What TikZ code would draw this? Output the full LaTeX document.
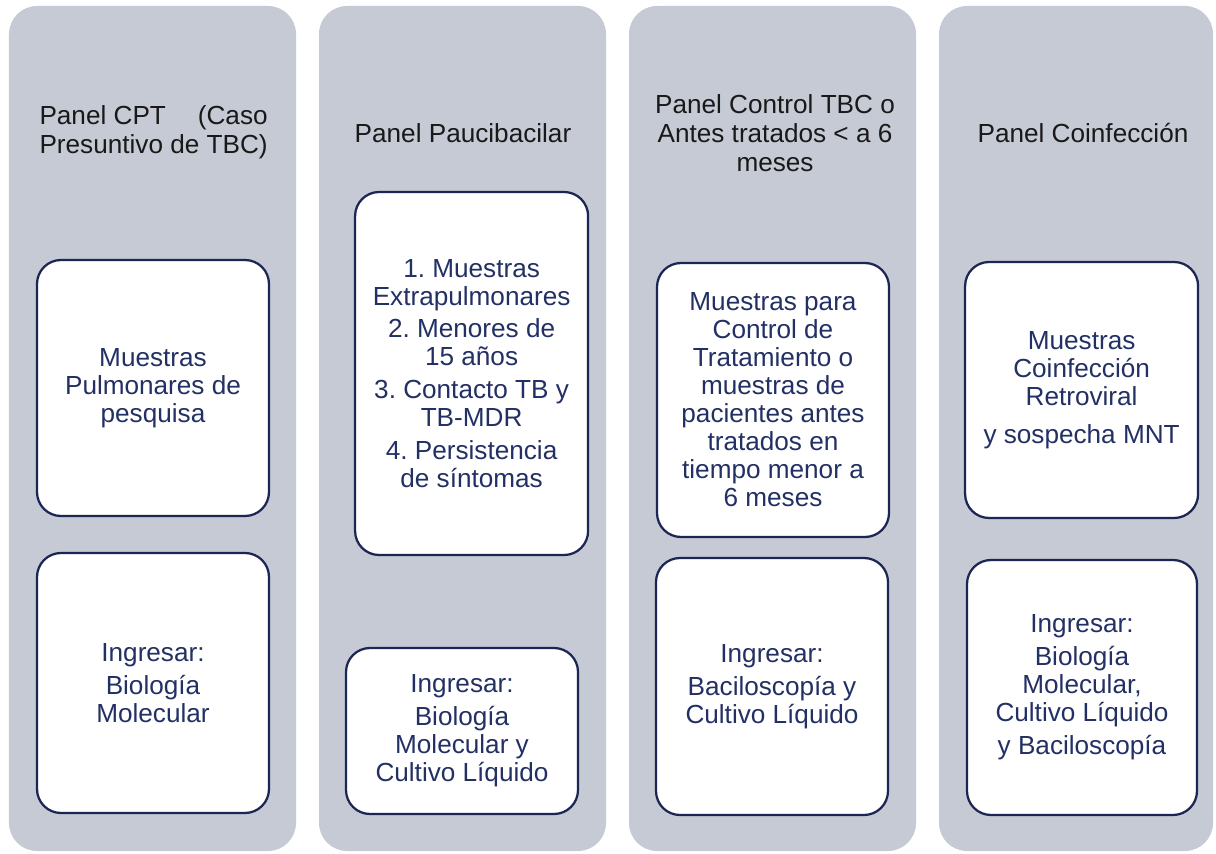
\documentclass[tikz,border=0pt]{standalone}
\usepackage{fontspec}
\setmainfont{Liberation Sans}
\usetikzlibrary{positioning}
\definecolor{panelgray}{RGB}{197,202,213}
\definecolor{boxblue}{RGB}{28,38,84}
\definecolor{textblue}{RGB}{35,48,100}

\begin{document}
\begin{tikzpicture}
\useasboundingbox (0,0) rectangle (30.4,21.325);
%styles
\tikzstyle{panel}=[rectangle,rounded corners=0.7cm,fill=panelgray,minimum width=7.175cm,minimum height=21.125cm,inner sep=0pt]
\tikzstyle{box}=[rectangle,rounded corners=0.6cm,draw=boxblue,line width=1.6pt,fill=white,minimum width=5.8cm,text=textblue,align=center,font=\fontsize{18.6}{19.9}\selectfont,inner sep=0pt]
\tikzstyle{title}=[align=center,text=black!90,font=\fontsize{18.6}{20.6}\selectfont]

%%%%%%%%%%%%%%%%%%%%%%%%%%%%%%%%%%%%%%%%%%%%%%%%%%%%%%%%%%%%%%%%%%%%%%%%
%panels
\node[panel] (panel1) at (3.8125,10.6125) {};
\node[panel] (panel2) at (11.5625,10.6125) {};
\node[panel] (panel3) at (19.3125,10.6125) {};
\node[panel,minimum width=6.85cm] (panel4) at (26.9,10.6125) {};

%titles
\node[title] (tit1) at (3.84,18.0) {\begin{tabular}{@{}l@{}}Panel CPT\hfill(Caso\\Presuntivo de TBC)\end{tabular}};
\node[title] (tit2) at (11.575,18.0) {Panel Paucibacilar};
\node[title] (tit3) at (19.375,18.0) {Panel Control TBC o\\Antes tratados < a 6\\meses};
\node[title] (tit4) at (27.075,18.0) {Panel Coinfección};

%1
\node[box,minimum height=6.4cm] (box1) at (3.825,11.625) {Muestras\\Pulmonares de\\pesquisa};
\node[box,minimum height=6.5cm] (box11) at (3.825,4.25) {Ingresar:\\[3.5pt]Biología\\Molecular};
%2
\node[box,minimum width=5.825cm,minimum height=9.075cm] (box2) at (11.79,11.9875)
 {1.\ Muestras\\Extrapulmonares\\[3.5pt]2.\ Menores de\\15 años\\[3.5pt]3.\ Contacto TB y\\TB-MDR\\[3.5pt]4.\ Persistencia\\de síntomas};
\node[box,minimum height=4.15cm] (box22) at (11.55,3.05) {Ingresar:\\[3.5pt]Biología\\Molecular y\\Cultivo Líquido};
%3
\node[box,minimum height=6.85cm] (box3) at (19.325,11.325)
 {Muestras para\\Control de\\Tratamiento o\\muestras de\\pacientes antes\\tratados en\\tiempo menor a\\6 meses};
\node[box,minimum height=6.425cm] (box33) at (19.3,4.1625) {Ingresar:\\[3.5pt]Baciloscopía y\\Cultivo Líquido};
%4
\node[box,minimum width=5.825cm,minimum height=6.4cm] (box4) at (27.04,11.575)
 {Muestras\\Coinfección\\Retroviral\\[7pt]y sospecha MNT};
\node[box,minimum width=5.75cm,minimum height=6.375cm] (box44) at (27.05,4.1375)
 {Ingresar:\\[3.5pt]Biología\\Molecular,\\Cultivo Líquido\\[3.5pt]y Baciloscopía};

\end{tikzpicture}
\end{document}
